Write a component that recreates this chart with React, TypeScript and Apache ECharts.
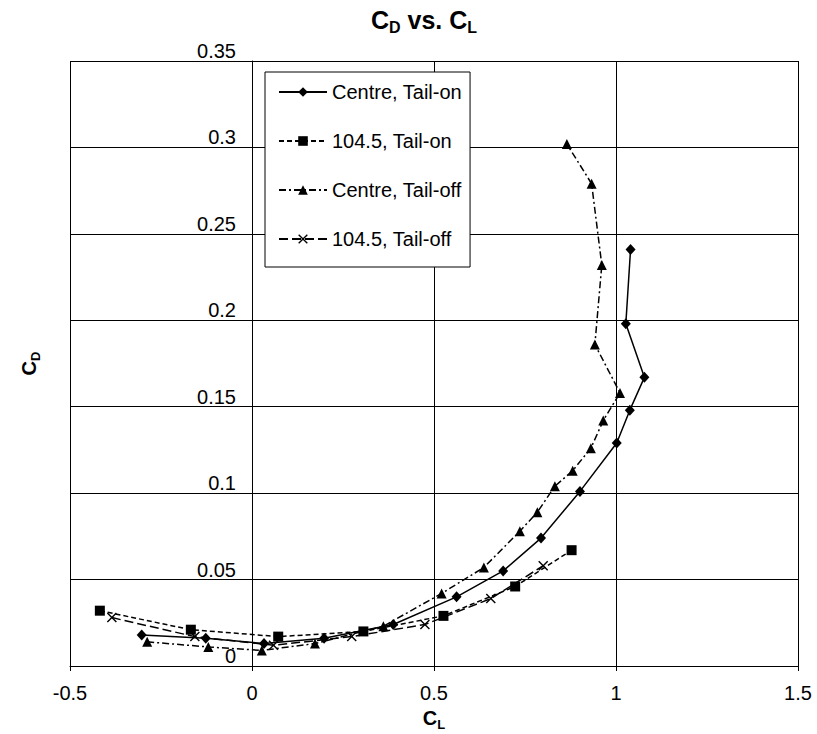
import React, { useEffect, useRef } from "react";
import * as echarts from "echarts";

const X_TICKS = [-0.5, 0, 0.5, 1, 1.5];
const Y_TICKS = [0, 0.05, 0.1, 0.15, 0.2, 0.25, 0.3, 0.35];

const CL_CENTRE_ON = [-0.303, -0.127, 0.033, 0.198, 0.388, 0.562, 0.69, 0.794, 0.901, 1.002, 1.038, 1.078, 1.027, 1.04];
const CD_CENTRE_ON = [0.018, 0.016, 0.013, 0.016, 0.024, 0.04, 0.055, 0.074, 0.101, 0.129, 0.148, 0.167, 0.198, 0.241];

const CL_1045_ON = [-0.418, -0.168, 0.072, 0.306, 0.526, 0.723, 0.878];
const CD_1045_ON = [0.032, 0.021, 0.017, 0.02, 0.029, 0.046, 0.067];

const CL_CENTRE_OFF = [-0.288, -0.12, 0.027, 0.173, 0.361, 0.521, 0.637, 0.736, 0.784, 0.832, 0.881, 0.931, 0.965, 1.011, 0.942, 0.961, 0.933, 0.865];
const CD_CENTRE_OFF = [0.014, 0.011, 0.009, 0.013, 0.023, 0.042, 0.057, 0.078, 0.089, 0.104, 0.113, 0.126, 0.142, 0.158, 0.186, 0.232, 0.279, 0.302];

const CL_1045_OFF = [-0.385, -0.157, 0.059, 0.274, 0.475, 0.656, 0.8];
const CD_1045_OFF = [0.028, 0.017, 0.012, 0.017, 0.024, 0.039, 0.058];

const SERIES_NAMES = ["Centre, Tail-on", "104.5, Tail-on", "Centre, Tail-off", "104.5, Tail-off"];

const FONT = "Arial, 'Liberation Sans', sans-serif";
const X_SYMBOL = "path://M0,1 L1,0 L5,4 L9,0 L10,1 L6,5 L10,9 L9,10 L5,6 L1,10 L0,9 L4,5 Z";

const zip = (xs: number[], ys: number[]) => xs.map((x, i) => [x, ys[i]]);

const nameRich = {
  b: { fontFamily: FONT, fontSize: 20, fontWeight: "bold", color: "#000", lineHeight: 26 },
  s: { fontFamily: FONT, fontSize: 13, fontWeight: "bold", color: "#000", lineHeight: 13, verticalAlign: "bottom" },
};

export default function App() {
  const ref = useRef<HTMLDivElement>(null);
  useEffect(() => {
    if (!ref.current) return;
    const chart = echarts.init(ref.current, undefined, { renderer: "svg" });
    const mk = (name: string, xs: number[], ys: number[], symbol: string, size: any, dash: any) => ({
      name,
      type: "line",
      data: zip(xs, ys),
      symbol,
      symbolSize: size,
      showSymbol: true,
      lineStyle: { color: "#000", width: 1.5, type: dash },
      itemStyle: { color: "#000" },
      emphasis: { disabled: true },
    });
    chart.setOption({
      animation: false,
      backgroundColor: "#fff",
      textStyle: { fontFamily: FONT, color: "#000" },
      title: {
        text: "{b|C}{s|D}{b| vs. C}{s|L}",
        left: 366,
        top: 0,
        textStyle: {
          rich: {
            b: { fontFamily: FONT, fontSize: 25, fontWeight: "bold", color: "#000", lineHeight: 30 },
            s: { fontFamily: FONT, fontSize: 16, fontWeight: "bold", color: "#000", lineHeight: 15, verticalAlign: "bottom" },
          },
        },
      },
      legend: {
        orient: "vertical",
        left: 265,
        top: 72,
        itemWidth: 48,
        itemHeight: 12,
        itemGap: 27,
        padding: [9, 8, 17, 13],
        backgroundColor: "#fff",
        borderColor: "#000",
        borderWidth: 1,
        borderRadius: 0,
        data: SERIES_NAMES,
        textStyle: { fontFamily: FONT, fontSize: 20, color: "#000", lineHeight: 22 },
      },
      grid: { left: 70, top: 61, width: 728, height: 605, containLabel: false, outerBoundsMode: "none" },
      xAxis: {
        type: "value",
        min: X_TICKS[0],
        max: X_TICKS[X_TICKS.length - 1],
        interval: 0.5,
        name: "{b|C}{s|L}",
        nameLocation: "middle",
        nameGap: 32,
        nameTextStyle: { rich: nameRich },
        axisLine: { show: true, onZero: false, lineStyle: { color: "#000", width: 1 } },
        axisTick: { show: true, length: 5, lineStyle: { color: "#000" } },
        axisLabel: { fontFamily: FONT, fontSize: 20, color: "#000", margin: 17 },
        splitLine: { show: true, lineStyle: { color: "#000", width: 1 } },
      },
      yAxis: {
        type: "value",
        position: "left",
        offset: -182,
        min: Y_TICKS[0],
        max: Y_TICKS[Y_TICKS.length - 1],
        interval: 0.05,
        name: "{b|C}{s|D}",
        nameLocation: "middle",
        nameRotate: 90,
        nameGap: 210,
        nameTextStyle: { rich: nameRich },
        axisLine: { show: true, onZero: false, lineStyle: { color: "#000", width: 1 } },
        axisTick: { show: false },
        axisLabel: { fontFamily: FONT, fontSize: 20, color: "#000", margin: 16, verticalAlign: "bottom" },
        splitLine: { show: true, lineStyle: { color: "#000", width: 1 } },
      },
      series: [
        mk(SERIES_NAMES[0], CL_CENTRE_ON, CD_CENTRE_ON, "diamond", [10, 11], "solid"),
        mk(SERIES_NAMES[1], CL_1045_ON, CD_1045_ON, "rect", 10, [5, 3]),
        mk(SERIES_NAMES[2], CL_CENTRE_OFF, CD_CENTRE_OFF, "triangle", 10, [7, 3, 2, 3]),
        mk(SERIES_NAMES[3], CL_1045_OFF, CD_1045_OFF, X_SYMBOL, 10, [9, 4]),
      ],
    });
    return () => chart.dispose();
  }, []);
  return (
    <div
      ref={ref}
      style={{ position: "fixed", left: 0, top: 0, width: 817, height: 734, background: "#fff" }}
    />
  );
}
